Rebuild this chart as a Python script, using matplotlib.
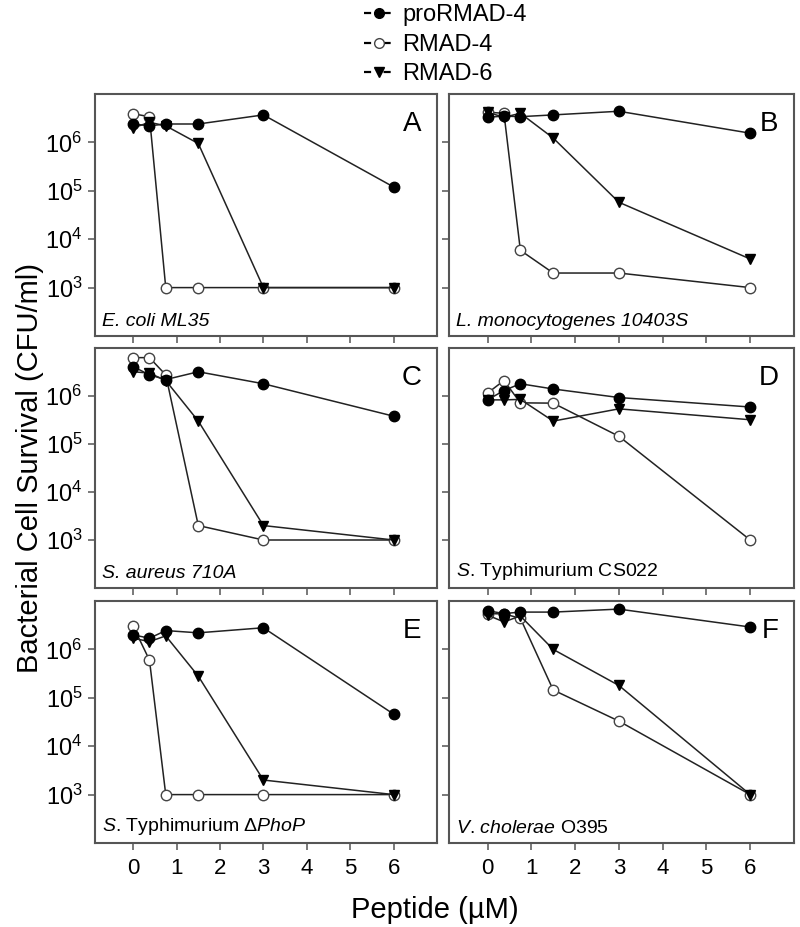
import math
import matplotlib
matplotlib.use("Agg")
import matplotlib.pyplot as plt
from matplotlib.lines import Line2D
from matplotlib.ticker import FixedLocator, NullLocator, FuncFormatter

plt.rcParams['font.family'] = ['Liberation Sans', 'DejaVu Sans']
plt.rcParams['mathtext.fontset'] = 'custom'
plt.rcParams['mathtext.rm'] = 'Liberation Sans'
plt.rcParams['mathtext.it'] = 'Liberation Sans:italic'

# ---------------- data ----------------
peptide_uM = [0, 0.375, 0.75, 1.5, 3, 6]
series_names = ["proRMAD-4", "RMAD-4", "RMAD-6"]
panel_letters = ["A", "B", "C", "D", "E", "F"]
# (text, all_italic)
strain_labels = [
    ("E. coli ML35", True),
    ("L. monocytogenes 10403S", True),
    ("S. aureus 710A", True),
    (r"$\mathit{S}$. Typhimurium CS022", False),
    (r"$\mathit{S}$. Typhimurium $\mathit{\Delta PhoP}$", False),
    (r"$\mathit{V}$. $\mathit{cholerae}$ O395", False),
]

A_pro = [2.4e6, 2.2e6, 2.4e6, 2.4e6, 3.7e6, 1.2e5]
A_r4 = [3.9e6, 3.4e6, 1e3, 1e3, 1e3, 1e3]
A_r6 = [2.0e6, 2.6e6, 2.2e6, 9.5e5, 1e3, 1e3]

B_pro = [3.3e6, 3.5e6, 3.4e6, 3.7e6, 4.4e6, 1.55e6]
B_r4 = [4.2e6, 4.0e6, 5.9e3, 2.0e3, 2.0e3, 1.0e3]
B_r6 = [4.2e6, 3.3e6, 4.0e6, 1.23e6, 5.8e4, 3.9e3]

C_pro = [4.1e6, 2.75e6, 2.2e6, 3.2e6, 1.8e6, 3.8e5]
C_r4 = [6.3e6, 6.3e6, 2.75e6, 2.0e3, 1e3, 1e3]
C_r6 = [3.2e6, 3.0e6, 2.1e6, 3.0e5, 2.0e3, 1e3]

D_pro = [8.3e5, 1.3e6, 1.8e6, 1.4e6, 9.3e5, 5.9e5]
D_r4 = [1.15e6, 2.1e6, 7.2e5, 7.1e5, 1.45e5, 1e3]
D_r6 = [8.3e5, 8.3e5, 8.5e5, 3.0e5, 5.4e5, 3.2e5]

E_pro = [2.0e6, 1.7e6, 2.45e6, 2.2e6, 2.8e6, 4.6e4]
E_r4 = [3.0e6, 6.0e5, 1e3, 1e3, 1e3, 1e3]
E_r6 = [1.7e6, 1.45e6, 1.9e6, 2.8e5, 2.0e3, 1e3]

F_pro = [6.3e6, 5.5e6, 5.9e6, 5.9e6, 6.8e6, 2.9e6]
F_r4 = [5.5e6, 5.4e6, 4.4e6, 1.45e5, 3.3e4, 1e3]
F_r6 = [5.1e6, 3.7e6, 4.9e6, 1.0e6, 1.8e5, 1e3]

panels = [
    (A_pro, A_r4, A_r6), (B_pro, B_r4, B_r6),
    (C_pro, C_r4, C_r6), (D_pro, D_r4, D_r6),
    (E_pro, E_r4, E_r6), (F_pro, F_r4, F_r6),
]

y_ticks = [1e3, 1e4, 1e5, 1e6]
x_ticks = [0, 1, 2, 3, 4, 5, 6]

# ---------------- figure ----------------
W, H = 800, 927
fig = plt.figure(figsize=(W / 100, H / 100), dpi=100)

col_lr = [(95, 437), (449, 794)]
row_tb = [(94, 336), (348, 588), (601, 843)]

spine_color = "#555555"
line_color = "#222222"
mstyle = {
    "proRMAD-4": dict(marker="o", mfc="black", mec="black", ms=7.5),
    "RMAD-4": dict(marker="o", mfc="white", mec="#444444", ms=7.5, mew=1.0),
    "RMAD-6": dict(marker="v", mfc="black", mec="black", ms=7.5),
}

for i, (pro, r4, r6) in enumerate(panels):
    r, c = divmod(i, 2)
    l, rr = col_lr[c]
    t, b = row_tb[r]
    ax = fig.add_axes([l / W, 1 - b / H, (rr - l) / W, (b - t) / H])
    ax.plot(peptide_uM, r4, color=line_color, lw=1.1, zorder=2, **mstyle["RMAD-4"])
    ax.plot(peptide_uM, r6, color=line_color, lw=1.1, zorder=3, **mstyle["RMAD-6"])
    ax.plot(peptide_uM, pro, color=line_color, lw=1.1, zorder=4, **mstyle["proRMAD-4"])
    ax.set_yscale("log")
    ax.set_ylim(1e2, 1e7)
    ax.set_xlim(-0.88, 7.0)
    ax.yaxis.set_major_locator(FixedLocator(y_ticks))
    ax.yaxis.set_minor_locator(NullLocator())
    ax.xaxis.set_major_locator(FixedLocator(x_ticks))
    ax.tick_params(direction="out", length=5, width=1.1, color=spine_color,
                   labelsize=15)
    for s in ax.spines.values():
        s.set_color(spine_color)
        s.set_linewidth(1.5)
    if c == 0:
        ax.yaxis.set_major_formatter(
            FuncFormatter(lambda v, p: r"$\mathregular{10^{%d}}$" % round(math.log10(v))))
        ax.tick_params(axis="y", labelsize=17, pad=4)
    else:
        ax.set_yticklabels([])
    if r == 2:
        ax.tick_params(axis="x", labelsize=16, pad=6)
    else:
        ax.set_xticklabels([])
    ax.text(0.955, 0.93, panel_letters[i], transform=ax.transAxes,
            ha="right", va="top", fontsize=20)
    txt, all_it = strain_labels[i]
    ax.text(0.02, 0.025, txt, transform=ax.transAxes, ha="left", va="bottom",
            fontsize=14, style="italic" if all_it else "normal")

fig.text(0.037, (1 - 468 / H), "Bacterial Cell Survival (CFU/ml)", rotation=90,
         ha="center", va="center", fontsize=21)
fig.text(435 / W, 1 - 910 / H, "Peptide (µM)", ha="center", va="center",
         fontsize=21)

handles = [Line2D([], [], color="black", lw=1.6, linestyle=(0, (3.2, 5.6)),
                  **{k: v for k, v in mstyle[n].items() if k != "ms"}, ms=7)
           for n in series_names]
fig.legend(handles, series_names, loc="upper left",
           bbox_to_anchor=(362 / W, 1 - 2 / H), frameon=False, fontsize=17,
           handlelength=1.2, handletextpad=0.4, labelspacing=0.32,
           borderaxespad=0.0, borderpad=0.1)

fig.savefig("out.png", dpi=100)
